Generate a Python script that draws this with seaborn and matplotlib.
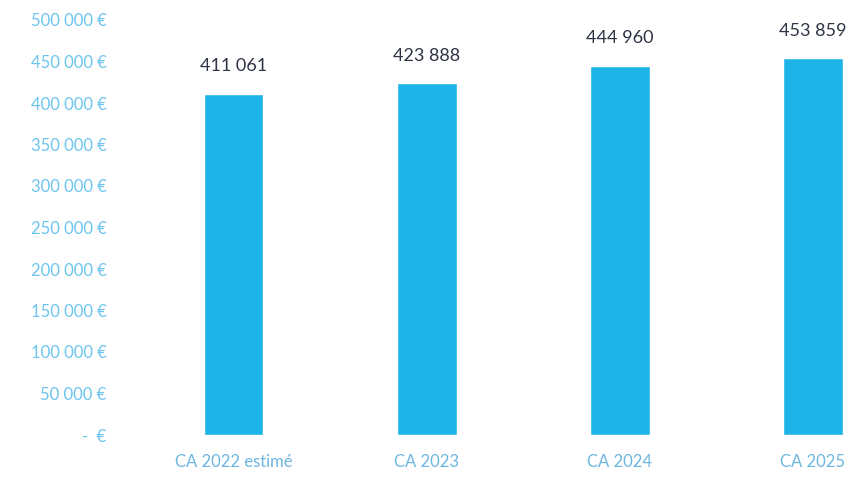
import matplotlib
matplotlib.use("Agg")
import matplotlib.pyplot as plt
import seaborn as sns
import pandas as pd
from matplotlib.ticker import FuncFormatter

categories = ["CA 2022 estimé", "CA 2023", "CA 2024", "CA 2025"]
values = [411061, 423888, 444960, 453859]
value_labels = ["411 061", "423 888", "444 960", "453 859"]

sns.set_theme(style="white")
plt.rcParams['font.family'] = ['Lato', 'DejaVu Sans']

df = pd.DataFrame({"cat": categories, "val": values})

fig = plt.figure(figsize=(8.61, 4.78), dpi=100)
ax = fig.add_axes([137/861, 1 - 435/478, 1 - 137/861, (435 - 20)/478])

sns.barplot(data=df, x="cat", y="val", color="#1fb4e8", saturation=1, width=0.31, ax=ax)

ax.set_xlim(-0.5, 3.25)
ax.set_ylim(0, 500000)
ax.set_yticks(range(0, 500001, 50000))

def fmt(v, pos):
    v = int(round(v))
    if v == 0:
        return "-  €"
    return f"{v:,}".replace(",", " ") + " €"

ax.yaxis.set_major_formatter(FuncFormatter(fmt))
ax.tick_params(axis="y", colors="#6cc4ef", labelsize=12, length=0, pad=22)
ax.tick_params(axis="x", colors="#6cb6e0", labelsize=12, length=0, pad=14)
ax.set_xlabel("")
ax.set_ylabel("")
for s in ax.spines.values():
    s.set_visible(False)

for i, (v, lab) in enumerate(zip(values, value_labels)):
    ax.annotate(lab, (i, v), xytext=(0, 14), textcoords="offset points",
                ha="center", va="bottom", fontsize=13, color="#2e3445")

fig.savefig("out.png", dpi=100)
